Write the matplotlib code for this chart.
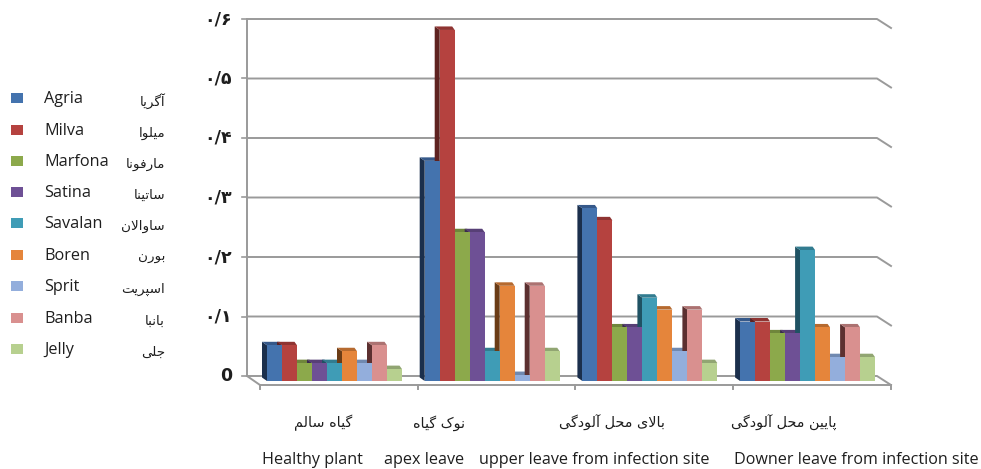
"""Grouped pseudo-3D bars for nine potato cultivars across four plant parts."""
import matplotlib
matplotlib.use("Agg")
import matplotlib.pyplot as plt
from matplotlib.patches import Polygon, Rectangle

# ---------------------------------------------------------------- data
CULTIVARS = ["Agria", "Milva", "Marfona", "Satina", "Savalan", "Boren", "Sprit", "Banba", "Jelly"]
CULTIVARS_FA = ["آگریا", "میلوا", "مارفونا", "ساتینا", "ساوالان", "بورن", "اسپریت", "بانبا", "جلی"]
GROUPS_EN = ["Healthy plant", "apex leave", "upper leave from infection site", "Downer leave from infection site"]
GROUPS_FA = ["گیاه سالم", "نوک گیاه", "بالای محل آلودگی", "پایین محل آلودگی"]

healthy = [0.06, 0.06, 0.03, 0.03, 0.03, 0.05, 0.03, 0.06, 0.02]
apex    = [0.37, 0.59, 0.25, 0.25, 0.05, 0.16, 0.01, 0.16, 0.05]
upper   = [0.29, 0.27, 0.09, 0.09, 0.14, 0.12, 0.05, 0.12, 0.03]
downer  = [0.10, 0.10, 0.08, 0.08, 0.22, 0.09, 0.04, 0.09, 0.04]
VALUES = [healthy, apex, upper, downer]

TICKS = [0.0, 0.1, 0.2, 0.3, 0.4, 0.5, 0.6]
TICK_LABELS = ["0", "۰/۱", "۰/۲", "۰/۳", "۰/۴", "۰/۵", "۰/۶"]

# ---------------------------------------------------------------- colours
FRONT = ["#4473AE", "#B5423F", "#8CA94B", "#6E5095", "#3F9CB6", "#E5853B", "#93AEDC", "#D9908F", "#B7D08F"]
SIDE  = ["#1B2F4C", "#5E2220", "#4C5C28", "#3A2A50", "#1F5263", "#6B3C16", "#4C5E7C", "#5C3030", "#66754C"]
TOP   = ["#36598A", "#8F3432", "#6F863B", "#573F76", "#327C90", "#B66A2F", "#7089B0", "#AC7271", "#91A572"]
GRID = "#9A9A9A"
TEXT = "#1E1E1E"

# ---------------------------------------------------------------- geometry, in pixels
W, H = 981, 469
GROUP_PX = 157.7
X0_PX = 260      # first category tick
Y0_PX = 381      # bar base
UNIT_PX = 595    # pixels for a value of 1

to_x = lambda p: (p - X0_PX) / GROUP_PX
to_y = lambda p: (Y0_PX - p) / UNIT_PX

BAR_W = 15 / GROUP_PX
BAR_PAD = 7 / GROUP_PX
DX = 5 / GROUP_PX
DY = 3.5 / UNIT_PX
WALL_DY = 5 / UNIT_PX      # back wall zero sits above the bar base
FLOOR_DY = -4 / UNIT_PX    # front floor edge sits below the bar base
WALL_X = to_x(247)
RIGHT_X = to_x(877)
END_X = to_x(891)

# ---------------------------------------------------------------- persian shaping
# matplotlib has no bidi or joining, so map letters to presentation forms by hand
FORMS = {
    "آ": (0xFE81, 0xFE82), "ا": (0xFE8D, 0xFE8E), "د": (0xFEA9, 0xFEAA),
    "ر": (0xFEAD, 0xFEAE), "و": (0xFEED, 0xFEEE), "ﻻ": (0xFEFB, 0xFEFC),
    "ب": (0xFE8F, 0xFE90, 0xFE91, 0xFE92), "پ": (0xFB56, 0xFB57, 0xFB58, 0xFB59),
    "ت": (0xFE95, 0xFE96, 0xFE97, 0xFE98), "ج": (0xFE9D, 0xFE9E, 0xFE9F, 0xFEA0),
    "ح": (0xFEA1, 0xFEA2, 0xFEA3, 0xFEA4), "س": (0xFEB1, 0xFEB2, 0xFEB3, 0xFEB4),
    "ف": (0xFED1, 0xFED2, 0xFED3, 0xFED4), "ک": (0xFB8E, 0xFB8F, 0xFB90, 0xFB91),
    "گ": (0xFB92, 0xFB93, 0xFB94, 0xFB95), "ل": (0xFEDD, 0xFEDE, 0xFEDF, 0xFEE0),
    "م": (0xFEE1, 0xFEE2, 0xFEE3, 0xFEE4), "ن": (0xFEE5, 0xFEE6, 0xFEE7, 0xFEE8),
    "ه": (0xFEE9, 0xFEEA, 0xFEEB, 0xFEEC), "ی": (0xFBFC, 0xFBFD, 0xFBFE, 0xFBFF),
}


def shape(text):
    text = text.replace("لا", "ﻻ")
    out = []
    for i, c in enumerate(text):
        if c not in FORMS:
            out.append(c)
            continue
        prev = text[i - 1] if i > 0 else " "
        nxt = text[i + 1] if i + 1 < len(text) else " "
        joins_prev = prev in FORMS and len(FORMS[prev]) == 4
        joins_next = nxt in FORMS and len(FORMS[c]) == 4
        f = FORMS[c]
        if joins_prev and joins_next:
            out.append(chr(f[3]))
        elif joins_prev:
            out.append(chr(f[1]))
        elif joins_next:
            out.append(chr(f[2]))
        else:
            out.append(chr(f[0]))
    return "".join(reversed(out))


# ---------------------------------------------------------------- figure
fig = plt.figure(figsize=(W / 100, H / 100), dpi=100)
ax = fig.add_axes([0, 0, 1, 1])
ax.set_xlim(to_x(0), to_x(W))
ax.set_ylim(to_y(H), to_y(0))
ax.axis("off")

# back wall and floor
for t in TICKS:
    y = t + WALL_DY
    ax.plot([WALL_X, RIGHT_X, END_X], [y, y, y - 9 / UNIT_PX], color=GRID, lw=1.4, zorder=1)
    ax.plot([to_x(242), WALL_X], [y, y], color=GRID, lw=1.2, zorder=1)
ax.plot([WALL_X, WALL_X], [WALL_DY, TICKS[-1] + WALL_DY], color=GRID, lw=1.4, zorder=1)
ax.plot([WALL_X, 0, END_X], [WALL_DY, FLOOR_DY, FLOOR_DY], color=GRID, lw=1.4, zorder=1)
for i in range(len(GROUPS_EN) + 1):
    ax.plot([i, i], [FLOOR_DY, FLOOR_DY - 4 / UNIT_PX], color=GRID, lw=1.4, zorder=1)

# bars: sides and tops first so the neighbouring front hides them
for g, vals in enumerate(VALUES):
    start = g + BAR_PAD
    for i, v in enumerate(vals):
        x = start + i * BAR_W
        ax.add_patch(Polygon([(x - DX, DY), (x, 0), (x, v), (x - DX, v + DY)],
                             facecolor=SIDE[i], edgecolor="none", zorder=2))
        ax.add_patch(Polygon([(x - DX, v + DY), (x, v), (x + BAR_W, v), (x + BAR_W - DX / 2, v + DY)],
                             facecolor=TOP[i], edgecolor="none", zorder=2))
    for i, v in enumerate(vals):
        x = start + i * BAR_W
        ax.add_patch(Rectangle((x, 0), BAR_W, v, facecolor=FRONT[i], edgecolor="none", zorder=3))

# value labels
for t, lab in zip(TICKS, TICK_LABELS):
    ax.text(to_x(232), t + WALL_DY, lab, ha="right", va="center", fontsize=12.5,
            fontweight="bold", family=["DejaVu Sans", "Noto Sans"], color=TEXT)

# category labels
FA_X = [323, 439, 612, 784]
EN_X = [312, 424, 594, 856]
for fa, en, xf, xe in zip(GROUPS_FA, GROUPS_EN, FA_X, EN_X):
    ax.text(to_x(xf), to_y(423), shape(fa), ha="center", va="center", fontsize=10.4,
            family="DejaVu Sans", color=TEXT)
    # bottom aligned so the descenders stay inside the picture
    ax.text(to_x(xe), to_y(468), en, ha="center", va="bottom", fontsize=11.6,
            family="Open Sans", color=TEXT)

# hand placed legend, two languages per row
LEGEND_Y = [98, 130, 161, 192, 223, 255, 286, 318, 349]
for name, fa, col, py in zip(CULTIVARS, CULTIVARS_FA, FRONT, LEGEND_Y):
    ax.add_patch(Rectangle((to_x(11), to_y(py + 5)), 12 / GROUP_PX, 10 / UNIT_PX,
                           facecolor=col, edgecolor="none"))
    ax.text(to_x(44), to_y(py + 1), name, ha="left", va="center", fontsize=11.7,
            family="Open Sans", color=TEXT)
    ax.text(to_x(165), to_y(py + 3), shape(fa), ha="right", va="center", fontsize=9.7,
            family="DejaVu Sans", color=TEXT)

fig.savefig("out.png", dpi=100)
plt.close(fig)
